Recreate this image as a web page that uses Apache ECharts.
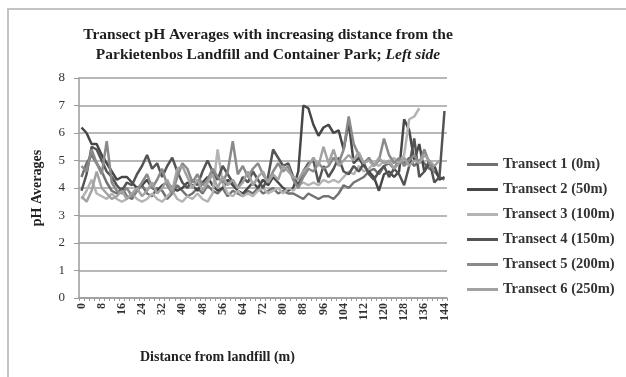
<!DOCTYPE html>
<html>
<head>
<meta charset="utf-8">
<script src="https://cdn.jsdelivr.net/npm/echarts@6/dist/echarts.min.js"></script>
<style>
  html, body { margin: 0; padding: 0; background: #fff; }
  #chart { width: 626px; height: 377px; }
</style>
</head>
<body>
<div id="chart"></div>
<script>
// Distance along each transect (m), sampled every 2 m
const distances = [];
for (let d = 0; d <= 144; d += 2) distances.push(String(d));

const yTicks = [0, 1, 2, 3, 4, 5, 6, 7, 8];

const seriesNames = [
  'Transect 1 (0m)',
  'Transect 2 (50m)',
  'Transect 3 (100m)',
  'Transect 4 (150m)',
  'Transect 5 (200m)',
  'Transect 6 (250m)'
];

const transect1 = [
  4.4, 4.9, 5.2, 4.9, 4.6, 4.2, 3.9, 3.8, 4.0, 3.7,
  3.6, 3.9, 4.1, 3.8, 3.7, 4.0, 3.9, 3.6, 3.8, 4.1,
  3.9, 3.7, 3.8, 4.0, 3.8, 4.1, 3.9, 3.8, 4.0, 3.7,
  3.9, 3.8, 3.7, 3.9, 3.8, 4.0, 3.8, 3.9, 4.0, 3.8,
  3.9, 3.8, 3.8, 3.7, 3.6, 3.8, 3.7, 3.6, 3.7, 3.7,
  3.6, 3.8, 4.1, 4.0, 4.2, 4.3, 4.4, 4.6, 4.7, 4.5,
  4.8, 4.9, 4.7, 5.0, 4.9, 5.1, 4.8, 5.0, 4.9, 4.7,
  4.6, 4.4, 4.3
];

const transect2 = [
  6.2, 6.0, 5.6, 5.6, 5.2, 4.9, 4.6, 4.3, 4.4, 4.4,
  4.2, 4.0, 4.1, 4.3, 4.0, 3.9, 4.1, 4.2, 4.0, 3.9,
  4.0, 4.2, 4.1, 3.9, 4.2, 4.4, 4.1, 3.9, 4.0, 4.3,
  4.1, 3.9, 3.8, 4.0, 4.2, 4.0, 4.3, 4.1, 4.4, 4.2,
  4.0, 3.9, 4.0, 4.6, 7.0, 6.9, 6.3, 5.9, 6.2, 6.3,
  6.0, 6.1, 5.4, 6.4, 4.9, 5.1, 4.8, 4.6, 4.4, 3.9,
  4.5, 4.6, 4.4, 4.6, 6.5, 6.1, 5.0, 5.6, 4.6, 4.9,
  4.8, 4.3, 4.4
];

const transect3 = [
  3.6, 3.9, 4.3, 3.8, 3.7, 3.6, 3.8, 3.6, 3.5, 3.6,
  3.8, 3.6, 3.5, 3.6, 3.8, 3.6, 3.5, 3.7, 3.9, 3.6,
  3.5, 3.7, 3.6, 3.8, 3.6, 3.5, 3.8, 5.4, 4.2, 3.8,
  3.7, 3.9, 3.7, 3.8, 3.7, 3.9, 4.0, 3.8, 3.9, 4.0,
  3.8, 4.0, 3.9, 4.1, 4.2, 4.1, 4.2, 4.1, 4.3, 4.2,
  4.3, 4.2, 4.4, 4.6, 4.5, 4.8, 4.6, 4.7, 4.9, 4.8,
  5.0, 4.9, 5.1, 4.9, 5.2, 6.5, 6.6, 6.9, null, null,
  null, null, null
];

const transect4 = [
  3.9, 4.5, 5.5, 5.4, 5.0, 4.6, 4.4, 4.1, 3.9, 4.2,
  4.1, 4.5, 4.8, 5.2, 4.7, 4.9, 4.4, 4.8, 5.1, 4.6,
  4.2, 4.0, 4.3, 4.1, 4.6, 5.0, 4.6, 4.3, 4.8, 4.5,
  4.2, 4.0, 4.4, 4.2, 4.6, 4.3, 4.0, 4.4, 5.4, 5.1,
  4.8, 4.9, 4.4, 4.1, 4.6, 4.9, 5.0, 4.2, 4.8, 4.4,
  4.7, 5.1, 4.6, 4.5, 4.8, 4.6, 4.9, 4.5, 4.3, 4.6,
  4.8, 4.4, 4.7, 4.5, 4.1, 4.8, 5.8, 4.4, 4.6, 5.0,
  4.2, 4.4, 6.8
];

const transect5 = [
  4.8, 4.6, 5.4, 4.9, 4.5, 5.7, 4.2, 3.9, 3.8, 4.0,
  3.7, 3.9, 4.2, 4.5, 4.0, 4.3, 4.7, 4.1, 3.8, 4.4,
  4.9, 4.7, 4.2, 4.5, 4.1, 4.3, 4.7, 4.4, 4.2, 4.6,
  5.7, 4.5, 4.8, 4.4, 4.7, 4.9, 4.5, 4.2, 4.6, 4.9,
  4.6, 4.8, 4.3, 4.0, 4.4, 4.7, 4.6, 4.9, 4.7, 4.8,
  5.1, 4.9, 5.4, 6.6, 5.6, 5.2, 4.9, 5.1, 4.8, 5.0,
  5.8, 5.2, 4.9, 5.1, 4.8, 5.0, 5.2, 4.9, 5.4, 4.9,
  4.6, null, null
];

const transect6 = [
  3.7, 3.5, 3.9, 4.6, 4.0, 3.8, 3.6, 3.7, 3.9, 3.6,
  3.8, 4.0, 3.7, 3.9, 4.2, 3.8, 4.0, 4.3, 3.9, 4.7,
  4.8, 4.4, 4.0, 4.3, 3.9, 4.2, 4.5, 4.0, 4.4, 4.1,
  4.3, 4.0, 4.2, 4.6, 4.1, 4.4, 4.6, 4.2, 4.5, 4.3,
  4.8, 4.6, 4.4, 4.3, 4.6, 4.8, 5.1, 4.8, 5.5, 4.9,
  5.4, 4.8, 5.0, 5.2, 5.0, 5.3, 4.9, 5.0, 4.8, 5.1,
  4.9, 5.0, 4.7, 4.9, 5.1, 4.8, 5.0, 4.9, 5.2, 5.0,
  4.8, 5.0, null
];

const seriesValues = [transect1, transect2, transect3, transect4, transect5, transect6];
const seriesColors = ['#727272', '#474747', '#b4b4b4', '#545454', '#8a8a8a', '#a2a2a2'];

const serif = '"Liberation Serif", "DejaVu Serif", serif';

const chart = echarts.init(document.getElementById('chart'), null, { renderer: 'canvas' });

chart.setOption({
  animation: false,
  backgroundColor: '#ffffff',
  title: {
    left: 263,
    top: 20,
    textAlign: 'center',
    text: '{b|Transect pH Averages with increasing distance from the}\n{b|Parkietenbos Landfill and Container Park; }{i|Left side}',
    textStyle: {
      rich: {
        b: { fontFamily: serif, fontWeight: 'bold', fontSize: 15.5, color: '#1e1e1e', lineHeight: 20 },
        i: { fontFamily: serif, fontWeight: 'bold', fontStyle: 'italic', fontSize: 15.5, color: '#1e1e1e', lineHeight: 20 }
      }
    }
  },
  legend: {
    orient: 'vertical',
    left: 462,
    top: 152,
    itemWidth: 31,
    itemHeight: 3,
    itemGap: 10,
    icon: 'rect',
    data: seriesNames,
    textStyle: { fontFamily: serif, fontWeight: 'bold', fontSize: 14.5, color: '#333' }
  },
  grid: { left: 79, right: 179, top: 78, bottom: 79, containLabel: false },
  xAxis: {
    type: 'category',
    data: distances,
    boundaryGap: true,
    axisLine: { lineStyle: { color: '#9a9a9a', width: 1.5 } },
    axisTick: { show: true, interval: 0, length: 3, lineStyle: { color: '#9a9a9a' } },
    axisLabel: {
      interval: 3,
      rotate: 90,
      fontFamily: serif,
      fontWeight: 'bold',
      fontSize: 12,
      color: '#333',
      margin: 5
    },
    splitLine: { show: false }
  },
  yAxis: {
    type: 'value',
    min: yTicks[0],
    max: yTicks[yTicks.length - 1],
    interval: 1,
    name: 'pH Averages',
    nameLocation: 'middle',
    nameGap: 35,
    nameRotate: 90,
    nameTextStyle: { fontFamily: serif, fontWeight: 'bold', fontSize: 14, color: '#222' },
    axisLine: { show: true, lineStyle: { color: '#9a9a9a', width: 1.5 } },
    axisTick: { show: true, length: 5, lineStyle: { color: '#9a9a9a' } },
    axisLabel: { fontFamily: serif, fontSize: 13, color: '#333', margin: 14 },
    splitLine: { lineStyle: { color: '#b8b8b8', width: 1.8 } }
  },
  graphic: [
    {
      type: 'rect',
      shape: { x: 8, y: 9, width: 640, height: 400 },
      style: { fill: 'none', stroke: '#c4c4c4', lineWidth: 2 },
      silent: true
    },
    {
      type: 'text',
      left: 140,
      top: 350,
      style: {
        text: 'Distance from landfill (m)',
        font: 'bold 14px ' + serif,
        fill: '#222'
      }
    }
  ],
  series: seriesValues.map((vals, k) => ({
    name: seriesNames[k],
    type: 'line',
    data: vals,
    showSymbol: false,
    symbol: 'none',
    connectNulls: false,
    lineStyle: { color: seriesColors[k], width: 2.5 },
    itemStyle: { color: seriesColors[k] },
    emphasis: { disabled: true }
  }))
});
</script>
</body>
</html>
